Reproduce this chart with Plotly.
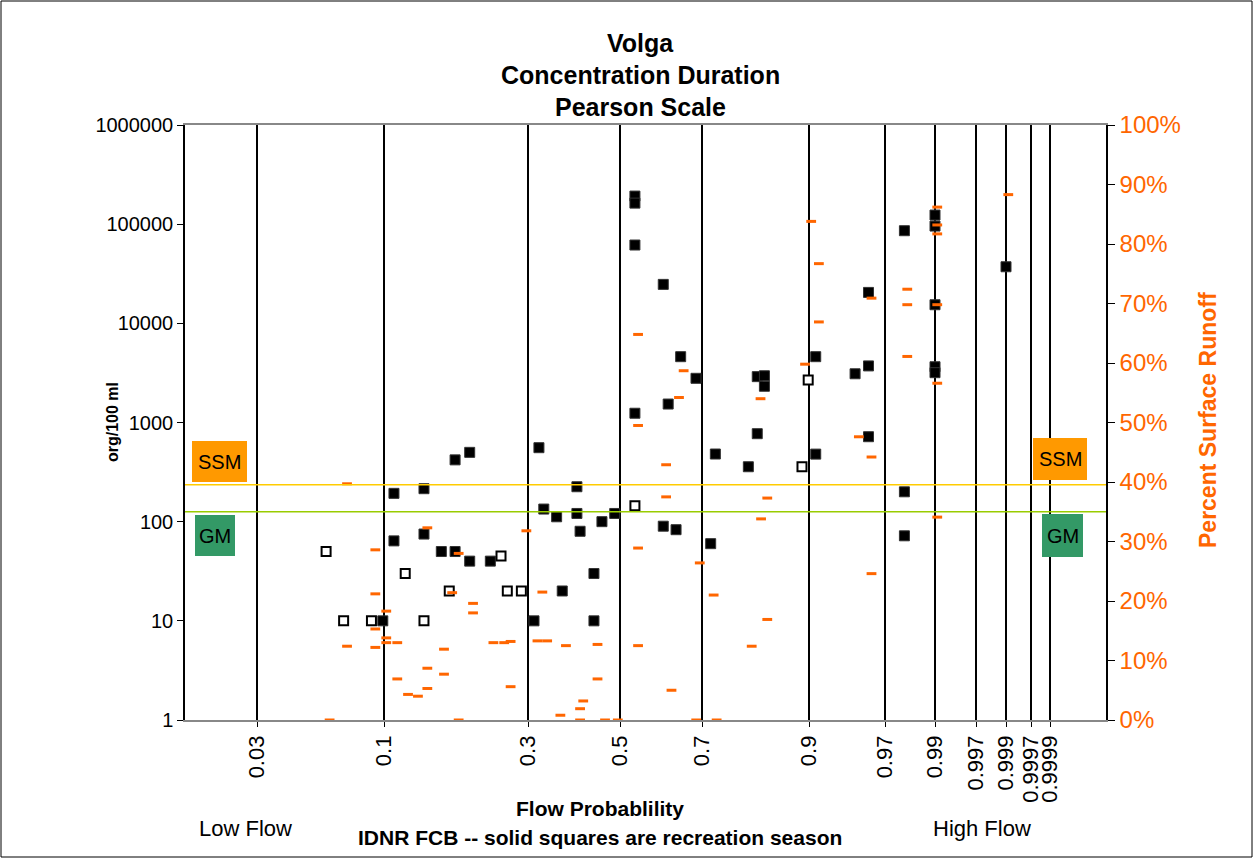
import numpy as np
import plotly.graph_objects as go
from statistics import NormalDist

# ---------------- data ----------------
PROB_TICKS = [0.03, 0.1, 0.3, 0.5, 0.7, 0.9, 0.97, 0.99, 0.997, 0.999, 0.9997, 0.9999]
PROB_TICK_TEXT = ["0.03", "0.1", "0.3", "0.5", "0.7", "0.9", "0.97", "0.99", "0.997", "0.999", "0.9997", "0.9999"]
# Pearson-scale calibration of the probability axis (axis units, median = 0)
PEARSON_POS = [-363, -236, -92, 0, 82, 189, 265, 315, 356, 386, 411, 430]
X_RANGE = [-435, 486]

Y_TICKS = [1, 10, 100, 1000, 10000, 100000, 1000000]
Y_TICK_TEXT = ["1", "10", "100", "1000", "10000", "100000", "1000000"]

SSM = 235
GM = 126

# recreation season samples (solid squares)
REC_PROB = [0.182, 0.203, 0.1095, 0.142, 0.1095, 0.142, 0.1635, 0.182, 0.203, 0.235,
            0.099, 0.322, 0.332, 0.359, 0.312, 0.371, 0.732, 0.403, 0.403, 0.459,
            0.488, 0.410, 0.441, 0.441, 0.609, 0.640, 0.721, 0.538, 0.538, 0.538,
            0.609, 0.651, 0.6865, 0.621, 0.538, 0.960, 0.909, 0.820, 0.833, 0.833,
            0.950, 0.960, 0.820, 0.960, 0.909, 0.803, 0.99, 0.99, 0.980, 0.999,
            0.99, 0.99, 0.99, 0.980, 0.980]
REC_VAL = [420, 500, 193, 215, 64, 75, 50, 50, 40, 40,
           10, 557, 134, 112, 10, 20, 481, 225, 121, 100,
           121, 80, 30, 10, 90, 83, 60, 192000, 163000, 61600,
           24700, 4610, 2790, 1535, 1240, 20500, 4610, 2900, 2960, 2320,
           3100, 3720, 771, 719, 480, 358, 123600, 95700, 85900, 37200,
           15400, 3650, 3180, 200, 72]

# non-recreation season samples (open squares)
NONREC_PROB = [0.060, 0.0705, 0.090, 0.121, 0.174, 0.142, 0.2526, 0.2633, 0.288, 0.538, 0.899, 0.891]
NONREC_VAL = [50, 10, 10, 30, 20, 10, 45, 20, 20, 145, 2680, 358]

# percent surface runoff (orange dashes, right axis)
RUNOFF_PROB = [0.0727, 0.093, 0.093, 0.1021, 0.093, 0.0727, 0.093, 0.1021, 0.1021, 0.1128,
               0.146, 0.187, 0.178, 0.208, 0.208, 0.167, 0.240, 0.258, 0.269, 0.1128,
               0.146, 0.167, 0.146, 0.124, 0.135, 0.269, 0.062, 0.187, 0.297, 0.329,
               0.319, 0.339, 0.367, 0.616, 0.616, 0.546, 0.695, 0.728, 0.379, 0.449,
               0.546, 0.449, 0.629, 0.417, 0.410, 0.410, 0.466, 0.495, 0.687, 0.735,
               0.546, 0.658, 0.647, 0.546, 0.903, 0.913, 0.962, 0.913, 0.895, 0.826,
               0.953, 0.962, 0.838, 0.827, 0.962, 0.838, 0.8095, 0.9991, 0.9906, 0.9906,
               0.9906, 0.9812, 0.9812, 0.9906, 0.9812, 0.9906, 0.9906]
RUNOFF_PCT = [39.7, 28.6, 21.2, 18.3, 15.3, 12.4, 12.2, 13.8, 13.0, 13.0,
              32.3, 28.0, 21.4, 19.6, 18.0, 11.9, 13.0, 13.0, 13.2, 6.9,
              8.7, 7.7, 5.3, 4.3, 4.0, 5.6, 0.0, 0.0, 31.8, 21.5,
              13.3, 13.3, 0.8, 42.9, 37.5, 28.9, 26.4, 21.0, 12.5, 12.7,
              12.5, 6.9, 5.0, 3.2, 1.9, 0.0, 0.0, 0.0, 0.0, 0.0,
              64.8, 58.7, 54.2, 49.5, 83.8, 76.7, 70.9, 66.9, 59.8, 54.0,
              47.6, 44.2, 37.3, 33.8, 24.6, 16.9, 12.4, 88.3, 86.2, 83.2,
              81.7, 72.4, 69.8, 69.8, 61.1, 56.6, 34.1]

# ---------------- Pearson probability scale ----------------
_nd = NormalDist()
Z_TICKS = np.array([_nd.inv_cdf(p) for p in PROB_TICKS])


def pearson(p):
    z = np.array([_nd.inv_cdf(v) for v in np.atleast_1d(p)])
    return np.interp(z, Z_TICKS, PEARSON_POS)


# ---------------- layout geometry ----------------
W, H = 1255, 860
ML, MR, MT, MB = 185, 149, 125, 140
PW, PH = W - ML - MR, H - MT - MB


def px(x):
    return (x - ML) / PW


def py(y):
    return (H - MB - y) / PH


FONT = "Liberation Sans, Arial, sans-serif"
ORANGE = "#FF6600"

fig = go.Figure()

fig.add_trace(go.Scatter(
    x=pearson(REC_PROB), y=REC_VAL, mode="markers", name="Recreation season",
    marker=dict(symbol="square", size=10, color="black", line=dict(color="#333333", width=1)),
    yaxis="y", showlegend=False))

fig.add_trace(go.Scatter(
    x=pearson(NONREC_PROB), y=NONREC_VAL, mode="markers", name="Other",
    marker=dict(symbol="square", size=9, color="white", line=dict(color="black", width=2)),
    yaxis="y", showlegend=False))

fig.add_trace(go.Scatter(
    x=pearson(RUNOFF_PROB), y=RUNOFF_PCT, mode="markers", name="Percent Surface Runoff",
    marker=dict(symbol="line-ew", size=7, color=ORANGE, line=dict(color=ORANGE, width=3)),
    yaxis="y2", showlegend=False))

# standards lines
fig.add_shape(type="line", xref="paper", yref="y", x0=0, x1=1, y0=SSM, y1=SSM,
              line=dict(color="#FFCC00", width=1.5))
fig.add_shape(type="line", xref="paper", yref="y", x0=0, x1=1, y0=GM, y1=GM,
              line=dict(color="#99CC00", width=1.5))

# label boxes
boxes = [
    ("SSM", 192, 247, 441, 482, "#FF9900"),
    ("SSM", 1033, 1087, 438, 480, "#FF9900"),
    ("GM", 195, 235, 515, 556, "#339966"),
    ("GM", 1042, 1083, 514, 557, "#339966"),
]
for txt, x0, x1, y0, y1, col in boxes:
    fig.add_shape(type="rect", xref="paper", yref="paper",
                  x0=px(x0), x1=px(x1), y0=py(y1), y1=py(y0),
                  fillcolor=col, line=dict(width=0), layer="above")
    fig.add_annotation(xref="paper", yref="paper", x=px((x0 + x1) / 2), y=py((y0 + y1) / 2),
                       text=txt, showarrow=False, xanchor="center", yanchor="middle",
                       font=dict(family=FONT, size=20, color="black"))

# outer chart border
fig.add_shape(type="rect", xref="paper", yref="paper",
              x0=px(1), x1=px(1252), y0=py(857), y1=py(1),
              line=dict(color="black", width=1), fillcolor="rgba(0,0,0,0)")

# titles
for txt, yc in [("Volga", 43), ("Concentration Duration", 75), ("Pearson Scale", 107)]:
    fig.add_annotation(xref="paper", yref="paper", x=px(640), y=py(yc), text="<b>%s</b>" % txt,
                       showarrow=False, xanchor="center", yanchor="middle",
                       font=dict(family=FONT, size=25, color="black"))

# bottom texts
fig.add_annotation(xref="paper", yref="paper", x=px(600), y=py(808), text="<b>Flow Probablility</b>",
                   showarrow=False, xanchor="center", yanchor="middle",
                   font=dict(family=FONT, size=21, color="black"))
fig.add_annotation(xref="paper", yref="paper", x=px(600), y=py(837),
                   text="<b>IDNR FCB -- solid squares are recreation season</b>",
                   showarrow=False, xanchor="center", yanchor="middle",
                   font=dict(family=FONT, size=21, color="black"))
fig.add_annotation(xref="paper", yref="paper", x=px(245), y=py(828), text="Low Flow",
                   showarrow=False, xanchor="center", yanchor="middle",
                   font=dict(family=FONT, size=22, color="black"))
fig.add_annotation(xref="paper", yref="paper", x=px(982), y=py(828), text="High Flow",
                   showarrow=False, xanchor="center", yanchor="middle",
                   font=dict(family=FONT, size=22, color="black"))

# axis titles
fig.add_annotation(xref="paper", yref="paper", x=px(112), y=py(422), text="<b>org/100 ml</b>",
                   showarrow=False, textangle=-90, xanchor="center", yanchor="middle",
                   font=dict(family=FONT, size=16, color="black"))
fig.add_annotation(xref="paper", yref="paper", x=px(1208), y=py(420), text="<b>Percent Surface Runoff</b>",
                   showarrow=False, textangle=-90, xanchor="center", yanchor="middle",
                   font=dict(family=FONT, size=23, color=ORANGE))

fig.update_layout(
    width=W, height=H, autosize=False,
    margin=dict(l=ML, r=MR, t=MT, b=MB),
    paper_bgcolor="white", plot_bgcolor="white",
    font=dict(family=FONT, color="black"),
    xaxis=dict(
        range=X_RANGE, tickmode="array", tickvals=pearson(PROB_TICKS), ticktext=PROB_TICK_TEXT,
        tickangle=-90, tickfont=dict(family=FONT, size=22, color="black"),
        showgrid=True, gridcolor="black", gridwidth=1.5, zeroline=False,
        showline=True, linecolor="#888888", linewidth=1.5, mirror=True,
        ticks="outside", ticklen=5, tickcolor="black",
    ),
    yaxis=dict(
        type="log", range=[0, 6], tickmode="array", tickvals=Y_TICKS, ticktext=Y_TICK_TEXT,
        tickfont=dict(family=FONT, size=20, color="black"),
        showgrid=False, zeroline=False, showline=True, linecolor="black", linewidth=1.5,
        ticks="outside", ticklen=6, tickcolor="black",
    ),
    yaxis2=dict(
        overlaying="y", side="right", range=[0, 100], dtick=10, ticksuffix="%",
        tickfont=dict(family=FONT, size=24, color=ORANGE),
        showgrid=False, zeroline=False, showline=True, linecolor="black", linewidth=1.5,
        ticks="outside", ticklen=7, tickcolor="black",
    ),
)

fig.write_html("out.html")
